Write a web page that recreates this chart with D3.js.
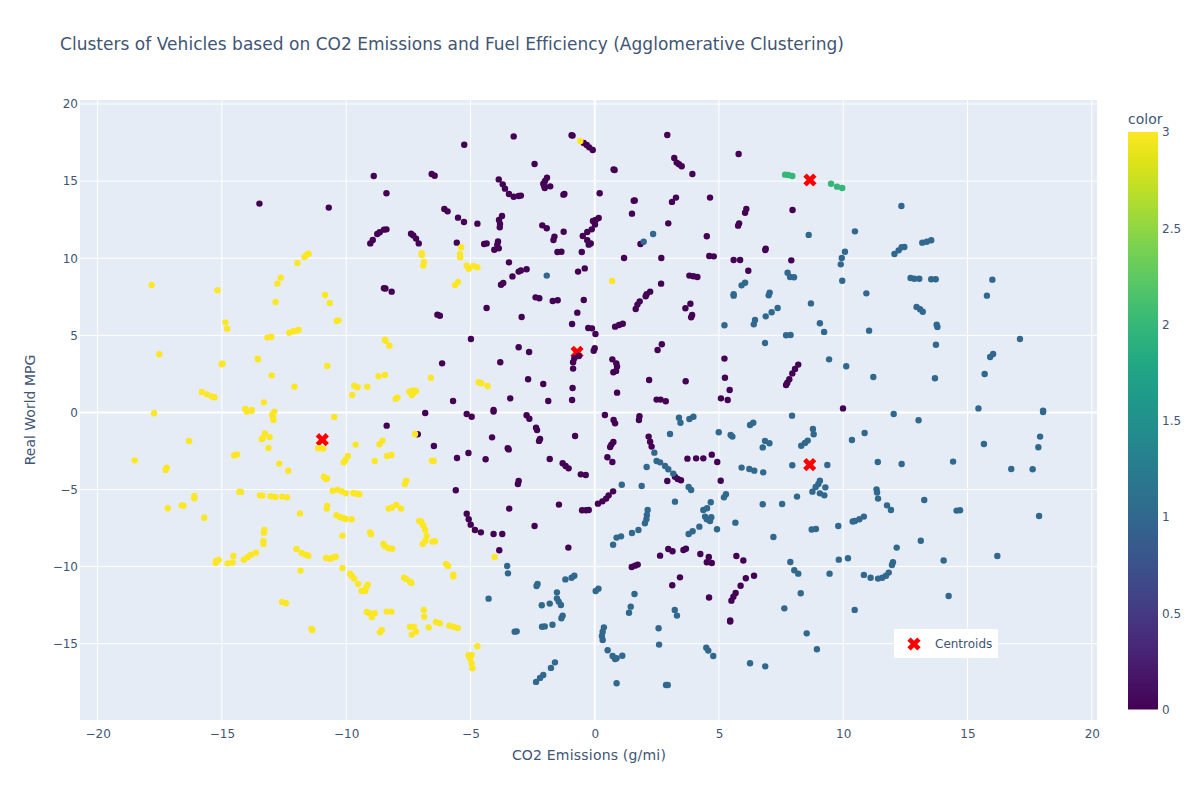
<!DOCTYPE html>
<html>
<head>
<meta charset="utf-8">
<script src="https://cdn.jsdelivr.net/npm/d3@7"></script>
<style>
  html, body { margin: 0; padding: 0; background: #fff; }
  svg { display: block; font-family: "DejaVu Sans", verdana, arial, sans-serif; }
</style>
</head>
<body>
<div id="chart"></div>
<script>
// values, [co2, mpg]
var cluster0 = [
  [-8.89,15.33],[-8.38,14.21],[-13.49,13.54],[-10.70,13.28],[-9.03,10.96],[-8.93,11.18],[-8.75,11.57],[-8.65,11.68],[-8.48,11.85],[-8.38,11.87],
  [-7.39,11.59],[-7.30,11.48],[-7.19,11.27],[-7.08,10.96],[-8.48,8.05],[-8.42,8.03],[-8.17,7.83],[-8.37,-0.86],[-7.12,-1.42],
  [-5.25,17.36],[-3.26,17.90],[-0.93,17.97],[-0.89,17.95],[-0.44,17.47],[-0.32,17.34],[-0.22,17.19],[-0.08,17.02],[2.92,17.99],[5.79,16.76],
  [3.20,16.50],[3.30,16.20],[3.39,16.09],[3.50,15.96],[3.93,15.46],[0.76,15.76],[0.80,15.72],[-2.42,16.11],[-6.56,15.46],[-6.44,15.35],
  [-1.92,15.22],[-2.00,15.01],[-2.07,14.83],[-2.03,14.68],[-2.01,14.55],[-1.79,14.66],[-3.86,15.11],[-3.70,14.79],[-3.61,14.51],[-3.45,14.16],
  [-3.26,13.99],[-3.06,14.03],[-2.97,14.06],[-1.26,14.12],[-1.22,14.16],[0.20,14.21],[1.57,13.73],[1.61,13.75],[3.27,13.93],[3.11,13.65],
  [4.64,13.93],[6.10,13.19],[6.05,12.95],[5.81,12.26],[5.77,12.11],[1.50,12.89],[2.96,12.26],[-6.05,13.19],[-5.92,13.04],[-5.50,12.63],
  [-5.26,12.35],[-4.72,12.24],[-3.73,12.74],[-3.85,12.48],[-3.81,12.22],[-3.82,12.00],[-2.11,12.13],[-1.93,11.94],[-1.25,11.72],[-1.62,11.40],
  [-1.66,11.18],[0.16,12.61],[0.04,12.48],[-0.07,12.41],[0.01,12.18],[-0.12,11.87],[-0.30,11.70],[-0.48,11.44],[-0.30,11.16],[-0.16,10.96],
  [-0.24,10.88],[4.51,11.42],[-5.55,11.01],[-4.45,10.92],[-4.35,10.96],[-3.89,11.09],[-3.92,10.88],[-3.86,10.64],[-4.04,10.55],[-1.50,10.40],
  [-1.34,10.42],[-0.52,10.40],[1.84,10.92],[1.18,10.01],[2.68,10.01],[4.61,10.14],[4.79,10.12],[5.59,9.88],[5.85,9.88],[6.18,9.19],
  [-3.45,9.73],[-3.06,9.13],[-2.97,9.21],[-2.74,9.28],[-3.31,8.82],[-0.67,9.13],[-0.40,9.34],[-3.77,8.28],[-3.68,8.39],[3.81,8.87],
  [3.97,8.83],[4.13,8.78],[2.67,8.35],[2.23,7.83],[2.09,7.66],[2.05,7.53],[1.81,7.20],[1.72,6.99],[1.65,6.71],[-2.38,7.46],
  [-2.23,7.40],[-1.69,7.22],[-1.49,7.27],[-0.44,7.29],[-4.35,6.77],[3.85,7.05],[3.65,6.75],[3.92,6.32],[3.88,6.17],[-6.33,6.34],
  [-6.23,6.27],[-2.94,6.19],[-0.70,6.47],[-0.91,5.73],[1.13,5.75],[0.98,5.67],[0.82,5.56],[-0.26,5.47],[-0.11,5.45],[0.03,5.08],
  [-4.98,4.76],[2.70,4.42],[2.53,4.05],[0.00,4.16],[-0.04,4.00],[-3.06,4.22],[-2.64,3.92],[-6.14,3.18],[-3.80,3.25],[-0.64,3.66],
  [-0.82,3.51],[-0.87,3.25],[-0.87,2.84],[0.71,3.44],[0.87,3.18],[0.90,2.97],[0.86,2.69],[0.75,2.60],[5.22,3.49],[5.24,2.25],
  [5.43,1.45],[5.08,0.91],[5.35,0.80],[-2.68,2.15],[-2.07,1.84],[-0.89,1.58],[2.19,2.10],[3.66,2.02],[0.90,1.28],[-3.40,0.91],
  [-5.70,0.74],[-1.87,0.74],[-0.91,0.80],[2.49,0.83],[2.65,0.83],[2.86,0.72],[-4.07,0.16],
  [-6.82,-0.04],[-5.15,-0.10],[-4.95,-0.28],[-4.07,0.05],[-2.74,-0.19],[-2.63,-0.41],[-2.36,-1.00],[-2.32,-1.15],[-2.20,-1.73],[-2.24,-1.85],
  [-0.79,-1.53],[0.41,-0.17],[0.76,-0.49],[0.82,-0.71],[1.80,-0.25],[1.78,-0.49],[-4.13,-1.62],[-6.47,-2.18],[-3.50,-2.33],[-3.46,-2.40],
  [-5.08,-2.63],[-5.54,-2.96],[-4.39,-3.04],[-1.81,-3.02],[-1.29,-3.30],[-1.17,-3.48],[-1.05,-3.63],[-0.56,-4.02],[-0.36,-4.06],[-3.06,-4.45],
  [-3.09,-4.64],[-5.59,-5.05],[-3.44,-6.24],[-1.44,-5.98],[-2.42,-7.37],[-5.15,-6.57],[-5.07,-6.93],[-4.99,-7.28],[-4.82,-7.63],[-4.58,-7.78],
  [-4.07,-7.89],[-3.72,-7.89],[-3.84,-8.94],[-1.06,-8.77],[-0.51,-6.35],[-0.35,-6.35],[-0.24,-6.33],[0.13,-5.92],[0.31,-5.77],[0.46,-5.59],
  [0.56,-5.38],[0.74,-5.12],[0.75,-1.92],[0.67,-2.09],[0.62,-2.24],[0.51,-2.91],[0.71,-3.22],[2.17,-1.57],[2.23,-1.90],[2.29,-2.22],
  [3.73,-3.00],[4.08,-2.98],[4.37,-2.98],[4.71,-2.74],[4.93,-3.22],[5.07,-4.43],[2.92,-4.45],[3.23,-4.17],[3.34,-4.32],[3.47,-4.40],
  [2.63,-9.29],[2.96,-8.86],[3.13,-9.01],[3.57,-8.92],[3.67,-8.84],[4.25,-9.18],[4.59,-9.38],[4.51,-9.72],[4.71,-9.77],[5.70,-9.31],
  [5.98,-9.61],[1.49,-10.03],[1.62,-9.94],[1.73,-9.87],[3.43,-10.70],[3.12,-11.21],[4.60,-12.01],[6.41,-10.59],[6.08,-10.76],[5.87,-11.24],
  [5.67,-11.71],[5.58,-11.95],[5.50,-12.21],[5.45,-13.50],[5.45,-13.56],
  [7.96,13.13],[6.86,10.53],[6.88,10.62],[7.91,9.86],[9.99,0.26],[8.19,3.10],[8.06,2.82],[7.95,2.53],[7.83,2.15],[7.75,1.93],[7.70,1.78]
];

var cluster1 = [
  [-1.93,8.87],[2.35,11.57],[1.97,11.07],[6.05,8.41],[5.91,8.24],[5.59,7.66],[5.59,7.57],[5.22,5.65],[6.45,5.99],[6.40,5.71],
  [3.39,-0.34],[3.45,-0.67],[3.81,-0.43],[3.97,-0.28],[3.03,-1.40],[4.99,-1.29],[5.47,-1.47],[5.54,-1.57],[6.25,-0.82],[6.38,-0.67],
  [2.40,-2.61],[2.49,-3.15],[2.63,-3.24],[2.83,-3.48],[2.96,-3.69],[2.09,-3.54],[3.16,-3.97],[5.91,-3.58],[6.22,-3.67],[6.42,-3.78],
  [1.09,-4.69],[1.89,-4.77],[3.78,-4.84],[3.88,-5.03],[5.28,-5.31],[5.20,-5.51],[4.67,-5.83],[3.23,-5.79],[4.52,-6.22],[4.37,-6.33],
  [2.13,-6.33],[2.10,-6.65],[2.08,-6.93],[2.02,-7.19],[4.44,-6.76],[4.51,-6.93],[4.64,-7.04],[4.69,-6.80],[5.66,-7.15],[4.92,-7.58],
  [4.21,-7.41],[3.94,-7.71],[3.78,-7.89],[1.76,-7.63],[1.50,-7.82],[1.06,-8.04],[0.88,-8.12],[0.74,-8.58],[-3.52,-9.96],[-3.49,-10.44],
  [-4.27,-12.08],[-0.82,-10.59],[-0.93,-10.72],[-1.18,-10.83],[-2.30,-11.13],[-2.34,-11.26],[0.15,-11.43],[0.04,-11.58],[-1.52,-11.67],[-1.52,-12.06],
  [-1.45,-12.27],[-1.36,-12.49],[-1.81,-12.40],[-2.13,-12.51],[-1.29,-13.18],[-1.34,-13.35],[1.60,-11.78],[1.45,-12.60],[1.38,-12.99],[3.22,-12.81],
  [3.31,-13.18],[-1.70,-13.77],[-2.12,-13.90],[-2.01,-13.88],[-3.14,-14.20],[-3.22,-14.22],[2.57,-14.00],[0.37,-13.94],[0.32,-14.22],[0.29,-14.50],
  [0.32,-14.76],[2.59,-15.06],[0.52,-15.43],[0.72,-15.80],[0.82,-16.00],[0.88,-15.95],[1.11,-15.78],[4.49,-15.26],[4.57,-15.45],[4.77,-15.80],
  [6.25,-16.27],[-1.60,-16.21],[-1.76,-16.57],[-2.07,-17.03],[-2.20,-17.22],[-2.36,-17.48],[0.88,-17.57],[2.87,-17.68],[2.94,-17.68],
  [12.34,13.39],[10.47,11.74],[8.61,11.51],[10.07,10.42],[9.94,10.01],[9.90,9.60],[9.96,8.54],[12.06,10.27],[12.23,10.51],[12.35,10.71],
  [12.46,10.73],[13.18,11.01],[13.36,11.07],[13.54,11.16],[12.71,8.72],[12.86,8.67],[13.06,8.67],[13.54,8.63],[13.72,8.63],[7.76,9.06],
  [7.86,8.78],[8.02,8.76],[16.00,8.61],[15.78,7.57],[7.04,7.77],[7.00,7.59],[10.93,7.72],[7.36,6.77],[7.12,6.49],[6.88,6.23],
  [8.70,7.07],[9.06,5.78],[9.23,5.22],[11.04,5.30],[12.95,6.84],[13.09,6.69],[13.20,6.53],[13.76,5.69],[13.79,5.54],[6.85,4.50],
  [7.70,5.00],[7.88,5.02],[13.73,4.39],[17.11,4.76],[16.03,3.79],[15.91,3.59],[9.43,3.44],[10.12,2.99],[11.21,2.30],[13.69,2.21],
  [15.69,2.49],[15.44,0.26],[18.04,0.11],
  [7.94,-0.21],[12.03,-0.10],[13.03,-0.51],[18.04,0.03],[8.78,-1.08],[8.81,-1.42],[10.86,-1.34],[10.35,-1.79],[6.85,-1.85],[7.03,-2.00],
  [6.76,-2.27],[8.57,-1.83],[8.46,-1.98],[8.31,-2.16],[17.92,-1.57],[17.85,-2.26],[15.66,-2.05],[7.95,-3.43],[9.36,-3.41],[11.39,-3.22],
  [12.35,-3.35],[14.42,-3.19],[6.78,-3.89],[16.76,-3.67],[17.62,-3.69],[9.06,-4.43],[9.00,-4.64],[8.89,-4.84],[9.28,-4.86],[8.76,-5.14],
  [9.06,-5.25],[9.24,-5.38],[8.14,-5.46],[11.34,-4.99],[11.36,-5.20],[11.40,-5.59],[13.26,-5.68],[11.76,-6.03],[11.92,-6.33],[6.76,-5.96],
  [7.54,-5.94],[14.56,-6.37],[14.70,-6.35],[17.88,-6.72],[10.83,-6.76],[10.65,-6.93],[10.47,-7.04],[10.38,-7.08],[9.80,-7.37],[8.90,-7.56],
  [8.73,-7.60],[7.19,-8.08],[13.12,-8.32],[12.15,-8.77],[16.20,-9.31],[14.04,-9.61],[9.82,-9.55],[10.19,-9.46],[12.00,-9.72],[11.96,-9.90],
  [7.87,-9.70],[8.03,-10.24],[8.19,-10.46],[9.45,-10.46],[11.83,-10.39],[11.72,-10.59],[11.57,-10.72],[11.40,-10.78],[10.83,-10.54],[11.10,-10.72],
  [8.29,-11.73],[14.24,-11.91],[7.63,-12.71],[10.46,-12.81],[8.53,-14.33],[8.94,-15.36],[6.86,-16.47]
];

var cluster2 = [
  [7.66,15.42],[7.79,15.40],[7.95,15.33],[9.51,14.83],[9.75,14.64],[9.96,14.55]
];

var cluster3 = [
  [-17.83,8.26],[-15.18,7.92],[-11.51,10.29],[-11.59,10.23],[-11.68,10.08],[-11.96,9.69],[-12.63,8.74],[-12.77,8.35],[-12.84,7.16],[-10.85,7.61],
  [-10.66,7.09],[-10.31,5.97],[-10.38,5.93],[-14.86,5.84],[-14.79,5.43],[-13.17,4.85],[-13.01,4.91],[-12.29,5.17],[-12.13,5.26],[-11.99,5.30],
  [-11.91,5.34],[-8.44,4.72],[-8.42,4.65],[-8.26,4.33],[-17.52,3.77],[-14.97,3.18],[-15.01,3.12],[-13.56,3.49],[-13.55,3.44],[-10.76,3.01],
  [-13.00,2.40],[-12.08,1.67],[-8.70,2.34],[-8.44,2.43],[-9.67,1.73],[-9.54,1.63],[-9.15,1.67],[-9.76,1.13],[-7.46,1.35],[-7.31,1.43],
  [-7.19,1.39],[-7.36,1.13],[-7.30,1.24],[-8.01,0.89],[-7.94,0.96],[-15.81,1.32],[-15.60,1.17],[-15.41,1.04],[-15.30,0.98],[-13.31,0.65],
  [-14.06,0.22],[-13.80,0.16],[-17.73,-0.06],[-14.00,0.05],[-13.80,0.11],[-12.98,-0.15],[-12.89,0.05],[-12.94,-0.32],[-12.93,-0.49],[-10.48,-0.30],
  [-7.23,-1.40],[-16.32,-1.85],[-13.27,-1.36],[-13.08,-1.60],[-13.36,-1.68],[-13.40,-1.75],[-13.13,-2.31],[-18.51,-3.11],[-14.51,-2.80],[-14.39,-2.72],
  [-17.22,-3.58],[-17.26,-3.73],[-12.69,-3.32],[-12.33,-3.78],[-11.13,-2.33],[-10.92,-2.35],[-11.05,-2.33],[-9.62,-2.09],[-8.54,-1.83],[-8.66,-2.07],
  [-9.93,-2.83],[-10.03,-3.09],[-10.10,-3.24],[-8.85,-3.15],[-8.36,-2.83],[-8.18,-2.76],[-10.90,-4.17],[-10.81,-4.32],[-10.77,-4.28],[-7.58,-4.43],
  [-7.64,-4.64],[-10.54,-5.08],[-10.35,-5.01],[-10.18,-5.12],[-10.01,-5.25],[-9.71,-5.23],[-9.58,-5.27],[-9.47,-5.31],[-14.30,-5.14],[-14.23,-5.16],
  [-16.11,-5.42],[-16.11,-5.57],[-13.47,-5.38],[-13.37,-5.40],[-13.04,-5.44],[-12.85,-5.49],[-12.57,-5.46],[-12.38,-5.51],[-16.62,-6.03],[-16.55,-6.05],
  [-17.18,-6.22],[-15.71,-6.83],[-10.77,-6.07],[-10.78,-6.24],[-11.86,-6.55],[-10.39,-6.67],[-10.25,-6.78],[-10.11,-6.87],[-10.02,-6.91],[-9.78,-6.93],
  [-8.29,-6.24],[-8.15,-6.16],[-7.98,-6.00],[-7.79,-6.24],[-7.06,-7.04],[-10.15,-7.99],[-9.04,-7.78],[-9.00,-7.91],[-13.29,-7.63],[-13.31,-7.80],
  [-13.33,-8.36],[-13.33,-8.53],[-8.50,-8.53],[-8.44,-8.68],[-8.29,-8.81],[-8.15,-8.84],[-12.00,-8.86],[-11.79,-9.12],[-11.64,-9.23],[-11.52,-9.29],
  [-10.81,-9.44],[-10.65,-9.49],[-10.55,-9.42],[-10.42,-9.36],[-13.63,-9.10],[-13.83,-9.23],[-13.96,-9.38],[-14.12,-9.55],[-14.54,-9.31],[-14.57,-9.74],
  [-14.77,-9.79],[-15.13,-9.57],[-15.24,-9.64],[-15.25,-9.77],[-11.84,-10.26],[-10.15,-10.09],[-9.84,-10.46],[-9.78,-10.59],[-9.68,-10.78],[-9.52,-11.13],
  [-9.13,-11.17],[-9.20,-11.37],[-9.38,-11.58],[-9.24,-11.58],[-7.67,-10.72],[-7.59,-10.80],[-7.43,-10.98],[-7.38,-11.06],[-12.58,-12.29],[-12.42,-12.38],
  [-9.17,-12.94],[-9.07,-13.03],[-8.85,-13.03],[-8.97,-13.27],[-8.37,-12.92],[-8.18,-12.92],[-11.40,-14.05],[-11.36,-14.11],[-7.43,-13.90],[-7.27,-13.92],
  [-7.19,-14.22],[-7.36,-14.41],[-8.57,-14.11],[-8.64,-14.26],
  [-5.37,10.71],[-5.42,10.27],[-5.41,10.06],[-6.96,10.32],[-6.96,10.21],[-6.87,9.75],[-6.90,9.52],[-5.15,9.52],[-5.07,9.32],[-4.88,9.49],
  [-4.72,9.41],[-5.50,8.46],[-5.62,8.26],[0.70,8.52],[-0.58,17.60],[-6.59,2.25],[-4.67,1.95],[-4.56,1.89],[-4.31,1.71],
  [-6.98,-7.09],[-6.90,-7.32],[-6.82,-7.63],[-6.76,-8.01],[-6.82,-8.34],[-6.92,-8.53],[-6.53,-8.38],[-6.43,-8.36],[-6.55,-3.13],[-6.48,-3.15],
  [-5.98,-9.83],[-5.90,-9.96],[-5.69,-10.52],[-5.69,-10.65],[-6.88,-12.81],[-6.86,-13.25],[-6.39,-13.59],[-6.23,-13.68],[-6.68,-13.94],[-5.85,-13.83],
  [-5.69,-13.90],[-5.51,-13.98],[-4.72,-15.17],[-5.08,-15.75],[-4.95,-15.73],[-5.02,-15.95],[-4.95,-16.27],[-4.92,-16.60],[-4.03,-9.38]
];

var centroids = [[-10.96,-1.77],[-0.71,3.90],[8.66,15.07],[8.65,-3.39]];

var clusterValues = [0, 1, 2, 3];
var xTicks = [-20, -15, -10, -5, 0, 5, 10, 15, 20];
var yTicks = [-15, -10, -5, 0, 5, 10, 15, 20];
var colorTicks = [0, 0.5, 1, 1.5, 2, 2.5, 3];

var textColor = "#415574";
var bgColor = "#e5ecf6";
var fontStack = '"DejaVu Sans", verdana, arial, sans-serif';

var svg = d3.select("#chart").append("svg").attr("width", 1200).attr("height", 800);

var x = d3.scaleLinear().domain([-20.71, 20.21]).range([80, 1097]);
var y = d3.scaleLinear().domain([-19.95, 20.26]).range([720, 100]);
var color = d3.scaleSequential(d3.interpolateViridis).domain([0, 3]);
var colorY = d3.scaleLinear().domain([0, 3]).range([709.5, 132]);

svg.append("text")
  .attr("x", 60).attr("y", 50)
  .attr("font-size", 17).attr("fill", textColor)
  .attr("letter-spacing", 0.03)
  .text("Clusters of Vehicles based on CO2 Emissions and Fuel Efficiency (Agglomerative Clustering)");

svg.append("rect")
  .attr("x", 80).attr("y", 100).attr("width", 1017).attr("height", 620)
  .attr("fill", bgColor);

// grid, zero lines are heavier
svg.append("g").selectAll("line").data(xTicks).enter().append("line")
  .attr("x1", function(d) { return x(d); })
  .attr("x2", function(d) { return x(d); })
  .attr("y1", 100).attr("y2", 720)
  .attr("stroke", "#fff")
  .attr("stroke-width", function(d) { return d === 0 ? 2 : 1; });

svg.append("g").selectAll("line").data(yTicks).enter().append("line")
  .attr("x1", 80).attr("x2", 1097)
  .attr("y1", function(d) { return y(d); })
  .attr("y2", function(d) { return y(d); })
  .attr("stroke", "#fff")
  .attr("stroke-width", function(d) { return d === 0 ? 2 : 1; });

var xAxis = svg.append("g")
  .attr("transform", "translate(0,720)")
  .call(d3.axisBottom(x).tickValues(xTicks).tickSize(0).tickPadding(9));
var yAxis = svg.append("g")
  .attr("transform", "translate(80,0)")
  .call(d3.axisLeft(y).tickValues(yTicks).tickSize(0).tickPadding(2));

[xAxis, yAxis].forEach(function(a) {
  a.select(".domain").remove();
  a.selectAll("text").attr("fill", textColor).attr("font-size", 12)
    .attr("font-family", fontStack);
});

svg.append("text")
  .attr("x", 589).attr("y", 760)
  .attr("text-anchor", "middle")
  .attr("font-size", 14).attr("fill", textColor)
  .attr("letter-spacing", 0.2)
  .text("CO2 Emissions (g/mi)");

svg.append("text")
  .attr("transform", "translate(35,410) rotate(-90)")
  .attr("text-anchor", "middle")
  .attr("font-size", 14).attr("fill", textColor)
  .text("Real World MPG");

// filled x, same outline for the centroids and the legend entry
function crossPath(r) {
  var a = r * 0.5, b = r;
  return "M" + (-a) + "," + (-b) +
    "L0," + (-a) + "L" + a + "," + (-b) +
    "L" + b + "," + (-a) + "L" + a + ",0" +
    "L" + b + "," + a + "L" + a + "," + b +
    "L0," + a + "L" + (-a) + "," + b +
    "L" + (-b) + "," + a + "L" + (-a) + ",0" +
    "L" + (-b) + "," + (-a) + "Z";
}

svg.append("g").selectAll("path").data(centroids).enter().append("path")
  .attr("d", crossPath(6.6))
  .attr("transform", function(d) { return "translate(" + x(d[0]) + "," + y(d[1]) + ")"; })
  .attr("fill", "#ff0000");

[cluster0, cluster1, cluster2, cluster3].forEach(function(points, i) {
  svg.append("g").selectAll("circle").data(points).enter().append("circle")
    .attr("cx", function(d) { return x(d[0]); })
    .attr("cy", function(d) { return y(d[1]); })
    .attr("r", 3.2)
    .attr("fill", color(clusterValues[i]));
});

// legend
var legend = svg.append("g").attr("transform", "translate(894,629)");
legend.append("rect").attr("width", 104).attr("height", 29).attr("fill", "#fff");
legend.append("path").attr("d", crossPath(6.6)).attr("transform", "translate(20,15)").attr("fill", "#ff0000");
legend.append("text").attr("x", 41).attr("y", 19)
  .attr("font-size", 12).attr("fill", textColor).text("Centroids");

// colorbar
var defs = svg.append("defs");
var grad = defs.append("linearGradient").attr("id", "viridis")
  .attr("x1", 0).attr("x2", 0).attr("y1", 1).attr("y2", 0);
d3.range(0, 1.001, 0.05).forEach(function(t) {
  grad.append("stop").attr("offset", t).attr("stop-color", d3.interpolateViridis(t));
});

svg.append("rect")
  .attr("x", 1128).attr("y", 132).attr("width", 30).attr("height", 577.5)
  .attr("fill", "url(#viridis)");

var colorAxis = svg.append("g")
  .attr("transform", "translate(1158,0)")
  .call(d3.axisRight(colorY).tickValues(colorTicks).tickSize(0).tickPadding(4)
    .tickFormat(function(d) { return d; }));
colorAxis.select(".domain").remove();
colorAxis.selectAll("text").attr("fill", textColor).attr("font-size", 12)
  .attr("font-family", fontStack);

svg.append("text")
  .attr("x", 1128).attr("y", 124)
  .attr("font-size", 14).attr("fill", textColor)
  .text("color");
</script>
</body>
</html>
